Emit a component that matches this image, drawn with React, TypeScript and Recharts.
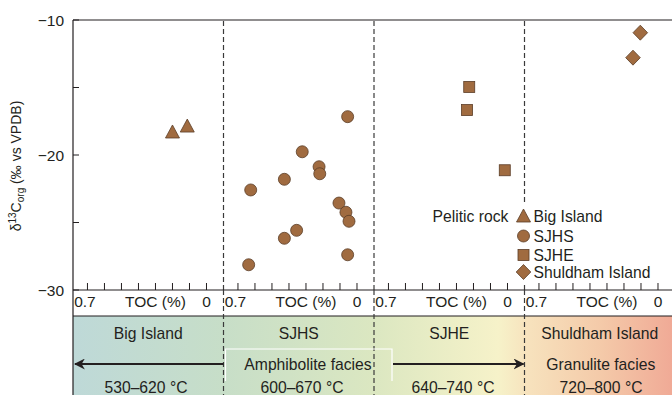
import { ScatterChart, Scatter, XAxis, YAxis, ReferenceLine } from 'recharts';

// sites, left to right
const PANELS = ['Big Island', 'SJHS', 'SJHE', 'Shuldham Island'];
const TEMPS = ['530–620 °C', '600–670 °C', '640–740 °C', '720–800 °C'];

// TOC (%) and δ13Corg (‰) per site
const BIG_ISLAND_TOC = [0.2, 0.113];
const BIG_ISLAND_D13C = [-18.37, -17.93];
const SJHS_TOC = [0.055, 0.322, 0.223, 0.219, 0.427, 0.625, 0.106, 0.065, 0.047, 0.355, 0.427, 0.055, 0.637];
const SJHS_D13C = [-17.16, -19.76, -20.87, -21.39, -21.8, -22.59, -23.56, -24.24, -24.91, -25.58, -26.17, -27.39, -28.13];
const SJHE_TOC = [0.225, 0.238, 0.016];
const SJHE_D13C = [-14.96, -16.67, -21.13];
const SHULDHAM_TOC = [0.104, 0.147];
const SHULDHAM_D13C = [-10.94, -12.79];

const TOC_TICKS = [0.7, 0.6, 0.5, 0.4, 0.3, 0.2, 0.1, 0];
const TOC_LABELS: Record<string, string> = { '0.7': '0.7', '0.3': 'TOC (%)', '0': '0' };
const Y_TICKS = [-30, -25, -20, -15, -10];
const Y_LABELED = [-30, -20, -10];

// each panel shows TOC from 0.785 down to -0.1
const TOC_LEFT = 0.785;
const TOC_SPAN = 0.885;
const toPanelX = (panel: number, toc: number) => panel + (TOC_LEFT - toc) / TOC_SPAN;

const W = 672;
const H = 395;
const PLOT_LEFT = 73;
const PLOT_TOP = 20;
const PLOT_BOTTOM = 290;
const PANEL_W = 150.5;
const X_MAX = (W - PLOT_LEFT) / PANEL_W;
const AXIS_BOX_BOTTOM = 316;

const INK = '#231f20';
const FILL = '#a06b40';
const EDGE = '#5b3d27';
const FONT = '"Liberation Sans", Arial, Helvetica, sans-serif';

const toPoints = (panel: number, tocs: number[], vals: number[]) =>
  tocs.map((t, i) => ({ x: toPanelX(panel, t), y: vals[i] }));

const bigIsland = toPoints(0, BIG_ISLAND_TOC, BIG_ISLAND_D13C);
const sjhs = toPoints(1, SJHS_TOC, SJHS_D13C);
const sjhe = toPoints(2, SJHE_TOC, SJHE_D13C);
const shuldham = toPoints(3, SHULDHAM_TOC, SHULDHAM_D13C);

const xTicks: { value: number; label?: string }[] = [];
PANELS.forEach((_, i) => {
  TOC_TICKS.forEach((t) => xTicks.push({ value: toPanelX(i, t), label: TOC_LABELS[String(t)] }));
});

function Triangle({ cx, cy }: any) {
  return <polygon points={`${cx},${cy - 8} ${cx - 7},${cy + 5} ${cx + 7},${cy + 5}`} fill={FILL} stroke={EDGE} strokeWidth={0.8} />;
}
function Circle({ cx, cy }: any) {
  return <circle cx={cx} cy={cy} r={6} fill={FILL} stroke={EDGE} strokeWidth={0.8} />;
}
function Square({ cx, cy }: any) {
  return <rect x={cx - 5.5} y={cy - 5.5} width={11} height={11} fill={FILL} stroke={EDGE} strokeWidth={0.8} />;
}
function Diamond({ cx, cy }: any) {
  return <polygon points={`${cx},${cy - 7.5} ${cx + 7.3},${cy} ${cx},${cy + 7.5} ${cx - 7.3},${cy}`} fill={FILL} stroke={EDGE} strokeWidth={0.8} />;
}

function TocTick({ x, y, payload }: any) {
  const t = xTicks.find((k) => Math.abs(k.value - payload.value) < 1e-6);
  const label = t?.label;
  return (
    <g>
      <line x1={x} x2={x} y1={y} y2={y - 7} stroke={INK} strokeWidth={1} />
      {label && (
        <text x={label === '0.7' ? x - 2.5 : x} y={y + 17} textAnchor="middle" fontSize={15.5} fontFamily={FONT} fill={INK}>
          {label}
        </text>
      )}
    </g>
  );
}

function DeltaTick({ x, y, payload }: any) {
  const labeled = Y_LABELED.includes(payload.value);
  return (
    <g>
      <line x1={x} x2={x + 6} y1={y} y2={y} stroke={INK} strokeWidth={1} />
      {labeled && (
        <text x={x - 9} y={y + 5.5} textAnchor="end" fontSize={15.5} fontFamily={FONT} fill={INK}>
          {`\u2212${Math.abs(payload.value)}`}
        </text>
      )}
    </g>
  );
}

const LEGEND = [
  { name: 'Big Island', Shape: Triangle, y: 216 },
  { name: 'SJHS', Shape: Circle, y: 236 },
  { name: 'SJHE', Shape: Square, y: 255 },
  { name: 'Shuldham Island', Shape: Diamond, y: 272 },
];

function Overlay() {
  const px = (i: number) => PLOT_LEFT + i * PANEL_W;
  const rowText = { fontSize: 15.7, fontFamily: FONT, fill: INK, textAnchor: 'middle' as const };
  return (
    <svg width={W} height={H} style={{ position: 'absolute', left: 0, top: 0, pointerEvents: 'none' }}>
      <defs>
        <linearGradient id="band" x1="0" x2="1" y1="0" y2="0">
          <stop offset="0%" stopColor="#bed9d8" />
          <stop offset="25%" stopColor="#c7dec8" />
          <stop offset="50%" stopColor="#dbe7c1" />
          <stop offset="71%" stopColor="#f6f2c9" />
          <stop offset="76%" stopColor="#f7e2bd" />
          <stop offset="88%" stopColor="#f4caa9" />
          <stop offset="100%" stopColor="#f0aa96" />
        </linearGradient>
        <marker id="ah" viewBox="0 0 10 10" refX="9" refY="5" markerWidth="5.5" markerHeight="5.5" orient="auto-start-reverse">
          <path d="M0,0 L10,5 L0,10 L3,5 Z" fill={INK} />
        </marker>
      </defs>

      {/* y axis title */}
      <text transform="translate(21,166) rotate(-90)" textAnchor="middle" fontSize={14} fontFamily={FONT} fill={INK}>
        δ<tspan dy={-5} fontSize={10}>13</tspan>
        <tspan dy={5}>C</tspan>
        <tspan dy={3} fontSize={10}>org</tspan>
        <tspan dy={-3}> (‰ vs VPDB)</tspan>
      </text>

      {/* facies band */}
      <rect x={PLOT_LEFT} y={AXIS_BOX_BOTTOM} width={W - PLOT_LEFT} height={H - AXIS_BOX_BOTTOM} fill="url(#band)" />
      <line x1={PLOT_LEFT} x2={W} y1={AXIS_BOX_BOTTOM} y2={AXIS_BOX_BOTTOM} stroke={INK} strokeWidth={1.2} />
      <line x1={PLOT_LEFT} x2={PLOT_LEFT} y1={PLOT_BOTTOM} y2={H} stroke={INK} strokeWidth={1.2} />
      {[1, 2, 3].map((i) => (
        <line key={i} x1={px(i)} x2={px(i)} y1={PLOT_BOTTOM} y2={H} stroke="#3a3a3a" strokeWidth={1.2} strokeDasharray="5 3" />
      ))}

      <path d={`M${px(1) + 2},381 V349 H392 V381`} fill="none" stroke="#ffffff" strokeWidth={1.2} />
      <line x1={px(1)} x2={PLOT_LEFT + 2} y1={364} y2={364} stroke={INK} strokeWidth={2} markerEnd="url(#ah)" />
      <line x1={393} x2={px(3) - 1} y1={364} y2={364} stroke={INK} strokeWidth={2} markerEnd="url(#ah)" />

      {PANELS.map((p, i) => (
        <text key={p} x={px(i) + PANEL_W / 2} y={339} {...rowText}>{p}</text>
      ))}
      <text x={308} y={369.5} {...rowText}>Amphibolite facies</text>
      <text x={px(3) + PANEL_W / 2 + 1} y={369.5} {...rowText}>Granulite facies</text>
      {TEMPS.map((t, i) => (
        <text key={t} x={[146, 302, 453, 601][i]} y={392.5} {...rowText}>{t}</text>
      ))}

      {/* legend */}
      <rect x={428} y={204} width={W - 428} height={78} fill="#ffffff" />
      <text x={432.5} y={221.5} fontSize={15.7} fontFamily={FONT} fill={INK}>Pelitic rock</text>
      {LEGEND.map(({ name, Shape, y }) => (
        <g key={name}>
          <Shape cx={523.5} cy={name === 'Big Island' ? y + 1 : y} />
          <text x={533.5} y={y + 5.5} fontSize={15.7} fontFamily={FONT} fill={INK}>{name}</text>
        </g>
      ))}
    </svg>
  );
}

export default function App() {
  return (
    <div style={{ position: 'absolute', left: 0, top: 0, width: W, height: H, background: '#fff' }}>
      <ScatterChart width={W} height={H} margin={{ top: PLOT_TOP, right: 0, bottom: 0, left: 0 }}>
        <XAxis
          type="number"
          dataKey="x"
          domain={[0, X_MAX]}
          ticks={xTicks.map((t) => t.value)}
          interval={0}
          allowDataOverflow
          height={H - PLOT_BOTTOM}
          tickSize={0}
          tickMargin={0}
          tickLine={false}
          tick={<TocTick />}
          axisLine={{ stroke: INK, strokeWidth: 1.2 }}
        />
        <YAxis
          type="number"
          dataKey="y"
          domain={[-30, -10]}
          ticks={Y_TICKS}
          interval={0}
          allowDataOverflow
          width={PLOT_LEFT}
          tickSize={0}
          tickMargin={0}
          tickLine={false}
          tick={<DeltaTick />}
          axisLine={{ stroke: INK, strokeWidth: 1.2 }}
        />
        <ReferenceLine y={-10} stroke={INK} strokeWidth={1.2} />
        {[1, 2, 3].map((i) => (
          <ReferenceLine key={i} x={i} stroke="#3a3a3a" strokeWidth={1.2} strokeDasharray="5 3" />
        ))}
        <Scatter data={bigIsland} shape={<Triangle />} isAnimationActive={false} />
        <Scatter data={sjhs} shape={<Circle />} isAnimationActive={false} />
        <Scatter data={sjhe} shape={<Square />} isAnimationActive={false} />
        <Scatter data={shuldham} shape={<Diamond />} isAnimationActive={false} />
      </ScatterChart>
      <Overlay />
    </div>
  );
}
